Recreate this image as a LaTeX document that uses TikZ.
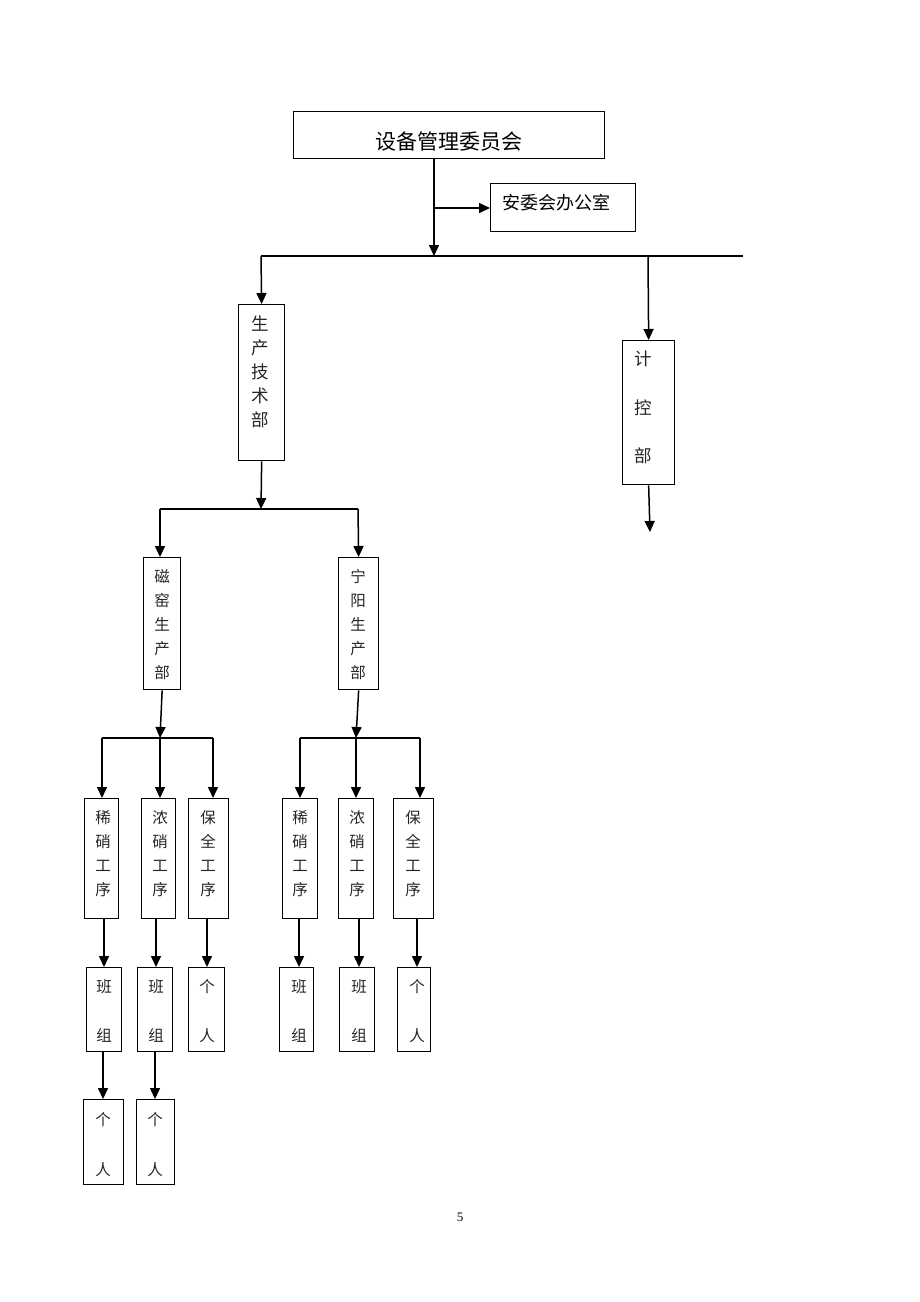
\documentclass[tikz,border=0pt]{standalone}
\usepackage{fontspec}
\setmainfont{Liberation Serif}
\newfontfamily\cjk{Noto Sans CJK SC}
\usetikzlibrary{arrows.meta}
\tikzset{
  box/.style={draw, line width=1.3pt, inner sep=0pt, anchor=north west},
  ln/.style={line width=1.5pt},
  arr/.style={line width=1.5pt, -{Triangle[length=11pt,width=10pt]}},
  txt/.style={inner sep=0pt, align=center, anchor=north, text=black!85},
}
\newcommand{\fs}[2]{\cjk\fontsize{#1}{#2}\selectfont}
\begin{document}
\begin{tikzpicture}[x=1pt,y=-1pt]
\useasboundingbox[fill=white] (0,0) rectangle (920,1302);
% level 0
\node[box, minimum width=311, minimum height=47] (top) at (293,111) {};
\node[inner sep=0pt, font=\fs{21}{24}] (topt) at (449,142) {设备管理委员会};
\node[box, minimum width=145, minimum height=48] (aw) at (490,183) {};
\node[inner sep=0pt, anchor=west, font=\fs{18}{20}] (awt) at (502,203) {安委会办公室};
\coordinate (hM) at (434,256);
\coordinate (hL) at (261,256);
\coordinate (hK) at (648,256);
\coordinate (hR) at (743,256);
\coordinate (aj) at (434,208);
\draw[arr] (top.south -| hM) -- (hM);
\draw[arr] (aj) -- (aj -| aw.west);
\draw[ln] (hL) -- (hR);
% level 1
\node[box, minimum width=46, minimum height=156] (scj) at (238,304) {};
\node[txt, font=\fs{17.5}{24}] (scjt) at (260,316) {生\\产\\技\\术\\部};
\node[box, minimum width=52, minimum height=144] (jk) at (622,340) {};
\node[txt, font=\fs{17.5}{48.5}] (jkt) at (643,351) {计\\控\\部};
\coordinate (jkend) at (650,532);
\draw[arr] (hL) -- (scj.north);
\draw[arr] (hK) -- (jk.north);
\draw[arr] (jk.south) -- (jkend);
% level 2
\coordinate (h2M) at (261,509);
\coordinate (h2L) at (160,509);
\coordinate (h2R) at (358,509);
\draw[arr] (scj.south) -- (h2M);
\draw[ln] (h2L) -- (h2R);
\node[box, minimum width=37, minimum height=132] (ck) at (143,557) {};
\node[txt, font=\fs{15.5}{24}] (ckt) at (162,569) {磁\\窑\\生\\产\\部};
\node[box, minimum width=40, minimum height=132] (ny) at (338,557) {};
\node[txt, font=\fs{15.5}{24}] (nyt) at (358,569) {宁\\阳\\生\\产\\部};
\draw[arr] (h2L) -- (h2L |- ck.north);
\draw[arr] (h2R) -- (ny.north);
% level 3 left
\coordinate (h3L) at (102,738);
\coordinate (h3M) at (160,738);
\coordinate (h3R) at (213,738);
\draw[arr] (ck.south) -- (h3M);
\draw[ln] (h3L) -- (h3R);
\node[box, minimum width=34, minimum height=120] (xa) at (84,798) {};
\node[box, minimum width=34, minimum height=120] (na) at (141,798) {};
\node[box, minimum width=40, minimum height=120] (ba) at (188,798) {};
\node[txt, font=\fs{15.5}{24}] (xat) at (103,810) {稀\\硝\\工\\序};
\node[txt, font=\fs{15.5}{24}] (nat) at (160,810) {浓\\硝\\工\\序};
\node[txt, font=\fs{15.5}{24}] (bat) at (208,810) {保\\全\\工\\序};
\draw[arr] (h3L) -- (h3L |- xa.north);
\draw[arr] (h3M) -- (h3M |- na.north);
\draw[arr] (h3R) -- (h3R |- ba.north);
% level 3 right
\coordinate (h4L) at (300,738);
\coordinate (h4M) at (356,738);
\coordinate (h4R) at (420,738);
\draw[arr] (ny.south) -- (h4M);
\draw[ln] (h4L) -- (h4R);
\node[box, minimum width=35, minimum height=120] (xb) at (282,798) {};
\node[box, minimum width=35, minimum height=120] (nb) at (338,798) {};
\node[box, minimum width=40, minimum height=120] (bb) at (393,798) {};
\node[txt, font=\fs{15.5}{24}] (xbt) at (300,810) {稀\\硝\\工\\序};
\node[txt, font=\fs{15.5}{24}] (nbt) at (357,810) {浓\\硝\\工\\序};
\node[txt, font=\fs{15.5}{24}] (bbt) at (413,810) {保\\全\\工\\序};
\draw[arr] (h4L) -- (h4L |- xb.north);
\draw[arr] (h4M) -- (h4M |- nb.north);
\draw[arr] (h4R) -- (h4R |- bb.north);
% level 4
\node[box, minimum width=35, minimum height=84] (bz1) at (86,967) {};
\node[box, minimum width=35, minimum height=84] (bz2) at (137,967) {};
\node[box, minimum width=36, minimum height=84] (gr1) at (188,967) {};
\node[box, minimum width=34, minimum height=84] (bz3) at (279,967) {};
\node[box, minimum width=35, minimum height=84] (bz4) at (339,967) {};
\node[box, minimum width=33, minimum height=84] (gr2) at (397,967) {};
\node[txt, font=\fs{15.5}{49}] (bz1t) at (104,979) {班\\组};
\node[txt, font=\fs{15.5}{49}] (bz2t) at (156,979) {班\\组};
\node[txt, font=\fs{15.5}{49}] (gr1t) at (207,979) {个\\人};
\node[txt, font=\fs{15.5}{49}] (bz3t) at (299,979) {班\\组};
\node[txt, font=\fs{15.5}{49}] (bz4t) at (359,979) {班\\组};
\node[txt, font=\fs{15.5}{49}] (gr2t) at (417,979) {个\\人};
\draw[arr] (xa.south -| bz1t) -- (bz1t |- bz1.north);
\draw[arr] (na.south -| bz2t) -- (bz2t |- bz2.north);
\draw[arr] (ba.south -| gr1t) -- (gr1t |- gr1.north);
\draw[arr] (xb.south -| bz3t) -- (bz3t |- bz3.north);
\draw[arr] (nb.south -| bz4t) -- (bz4t |- bz4.north);
\draw[arr] (bb.south -| gr2t) -- (gr2t |- gr2.north);
% level 5
\node[box, minimum width=40, minimum height=85] (gr3) at (83,1099) {};
\node[box, minimum width=38, minimum height=85] (gr4) at (136,1099) {};
\node[txt, font=\fs{15.5}{50}] (gr3t) at (103,1112) {个\\人};
\node[txt, font=\fs{15.5}{50}] (gr4t) at (155,1112) {个\\人};
\draw[arr] (bz1.south -| gr3t) -- (gr3t |- gr3.north);
\draw[arr] (bz2.south -| gr4t) -- (gr4t |- gr4.north);
% page number
\node[inner sep=0pt, font=\fontsize{13}{15}\selectfont] (pg) at (460,1217) {5};
\end{tikzpicture}
\end{document}
